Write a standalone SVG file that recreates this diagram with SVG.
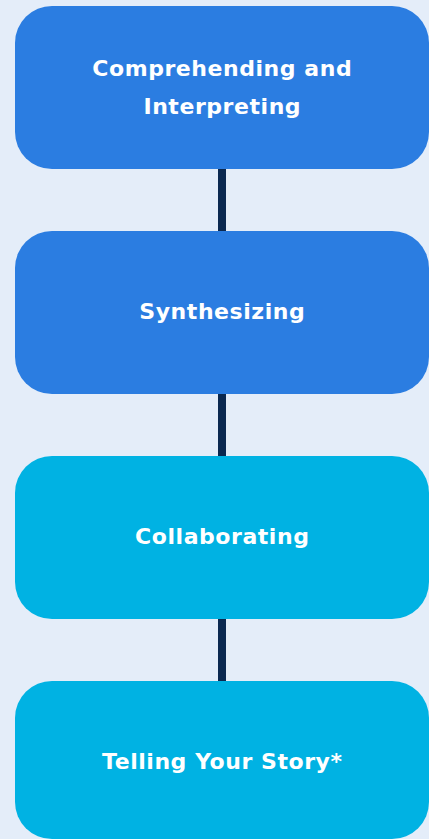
<svg xmlns="http://www.w3.org/2000/svg" width="429" height="839" viewBox="0 0 429 839">
<style>
.bg{fill:#e4edf9}
.blue{fill:#2b7de1}
.cyan{fill:#00b2e3}
.lbl{font-family:"DejaVu Sans","Liberation Sans",sans-serif;font-weight:700;font-size:22px;letter-spacing:0.55px;fill:#ffffff;text-anchor:middle}
.conn{stroke:#0a2850;stroke-width:8}
</style>
<rect class="bg" x="0" y="0" width="429" height="839"/>
<g id="connectors">
<line class="conn" x1="222" y1="168" x2="222" y2="232"/>
<line class="conn" x1="222" y1="393" x2="222" y2="457"/>
<line class="conn" x1="222" y1="618" x2="222" y2="682"/>
</g>
<g id="node1">
<rect class="blue" x="15" y="6" width="414" height="163" rx="37"/>
<text class="lbl" x="222.3" y="76">Comprehending and</text>
<text class="lbl" x="222.3" y="114">Interpreting</text>
</g>
<g id="node2">
<rect class="blue" x="15" y="231" width="414" height="163" rx="37"/>
<text class="lbl" x="222.3" y="319">Synthesizing</text>
</g>
<g id="node3">
<rect class="cyan" x="15" y="456" width="414" height="163" rx="37"/>
<text class="lbl" x="222.3" y="544">Collaborating</text>
</g>
<g id="node4">
<rect class="cyan" x="15" y="681" width="414" height="158" rx="37"/>
<text class="lbl" x="222.3" y="769">Telling Your Story*</text>
</g>
</svg>
